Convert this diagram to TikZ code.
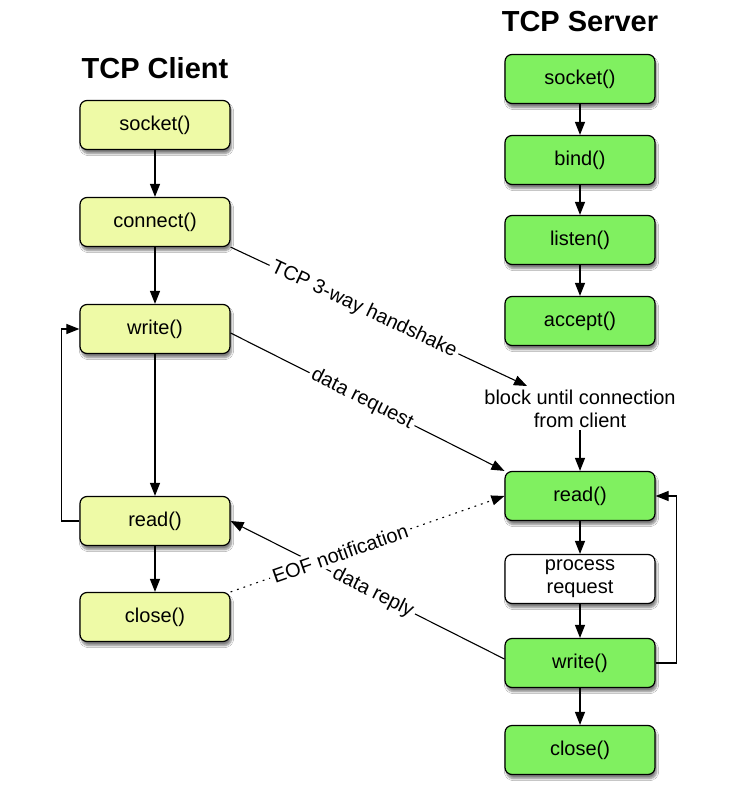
\documentclass[tikz,border=0pt]{standalone}
\usepackage{fontspec}
\setmainfont{Liberation Sans}
\usetikzlibrary{arrows.meta,shadows,shadows.blur}
\definecolor{clientfill}{RGB}{238,250,166}
\definecolor{serverfill}{RGB}{128,240,96}
\tikzset{
 box/.style={draw=black, line width=1.2pt, rounded corners=7pt, minimum width=150pt, minimum height=49pt, inner sep=2pt, align=center, font=\fontsize{20}{23}\selectfont, blur shadow={shadow xshift=1.5pt, shadow yshift=-4pt, shadow opacity=50, shadow blur steps=6}},
 cbox/.style={box, fill=clientfill},
 sbox/.style={box, fill=serverfill},
 pbox/.style={box, fill=white},
 conn/.style={line width=1.1pt, -{Triangle[length=13pt,width=10pt]}},
 dotconn/.style={conn, dash pattern=on 1.8pt off 5pt},
 lab/.style={sloped, fill=white, inner sep=3pt, font=\fontsize{20}{23}\selectfont},
 plain/.style={align=center, inner sep=2pt, font=\fontsize{20}{23}\selectfont},
 ttl/.style={font=\fontsize{29}{34}\selectfont\bfseries}
}
\begin{document}
\begin{tikzpicture}[x=1pt,y=-1pt]
\useasboundingbox[fill=white] (0,0) rectangle (733,810);
\node[ttl] (tclient) at (155,68) {TCP Client};
\node[ttl] (tserver) at (580,22) {TCP Server};
\node[cbox] (csocket) at (155,125) {socket()};
\node[cbox] (cconnect) at (155,222) {connect()};
\node[cbox] (cwrite) at (155,329) {write()};
\node[cbox] (cread) at (155,521) {read()};
\node[cbox] (cclose) at (155,617) {close()};
\node[sbox] (ssocket) at (580,79) {socket()};
\node[sbox] (sbind) at (580,160) {bind()};
\node[sbox] (slisten) at (580,240) {listen()};
\node[sbox] (saccept) at (580,321) {accept()};
\node[plain] (block) at (580,409) {block until connection\\from client};
\node[sbox] (sread) at (580,496) {read()};
\node[pbox] (sproc) at (580,579) {process\\request};
\node[sbox] (swrite) at (580,663) {write()};
\node[sbox] (sclose) at (580,750) {close()};
\coordinate (hsend) at (527,386);
% client chain
\draw[conn] (csocket) -- (cconnect);
\draw[conn] (cconnect) -- (cwrite);
\draw[conn] (cwrite) -- (cread);
\draw[conn] (cread) -- (cclose);
\draw[conn] (cread.west) -- ++(-18,0) |- (cwrite.west);
% server chain
\draw[conn] (ssocket) -- (sbind);
\draw[conn] (sbind) -- (slisten);
\draw[conn] (slisten) -- (saccept);
\draw[conn] (block) -- (sread);
\draw[conn] (sread) -- (sproc);
\draw[conn] (sproc) -- (swrite);
\draw[conn] (swrite) -- (sclose);
\draw[conn] (swrite.east) -- ++(21,0) |- (sread.east);
% cross connectors
\draw[conn] (cconnect.south east) -- node[lab,pos=0.45] {TCP 3-way handshake} (hsend);
\draw[conn] ([yshift=-4pt]cwrite.east) -- node[lab,pos=0.48] {data request} (sread.north west);
\draw[conn] ([yshift=4pt]swrite.west) -- node[lab,pos=0.48] {data reply} (cread.east);
\draw[dotconn] (cclose.north east) -- node[lab,pos=0.40] {EOF notification} (sread.west);
\end{tikzpicture}
\end{document}
